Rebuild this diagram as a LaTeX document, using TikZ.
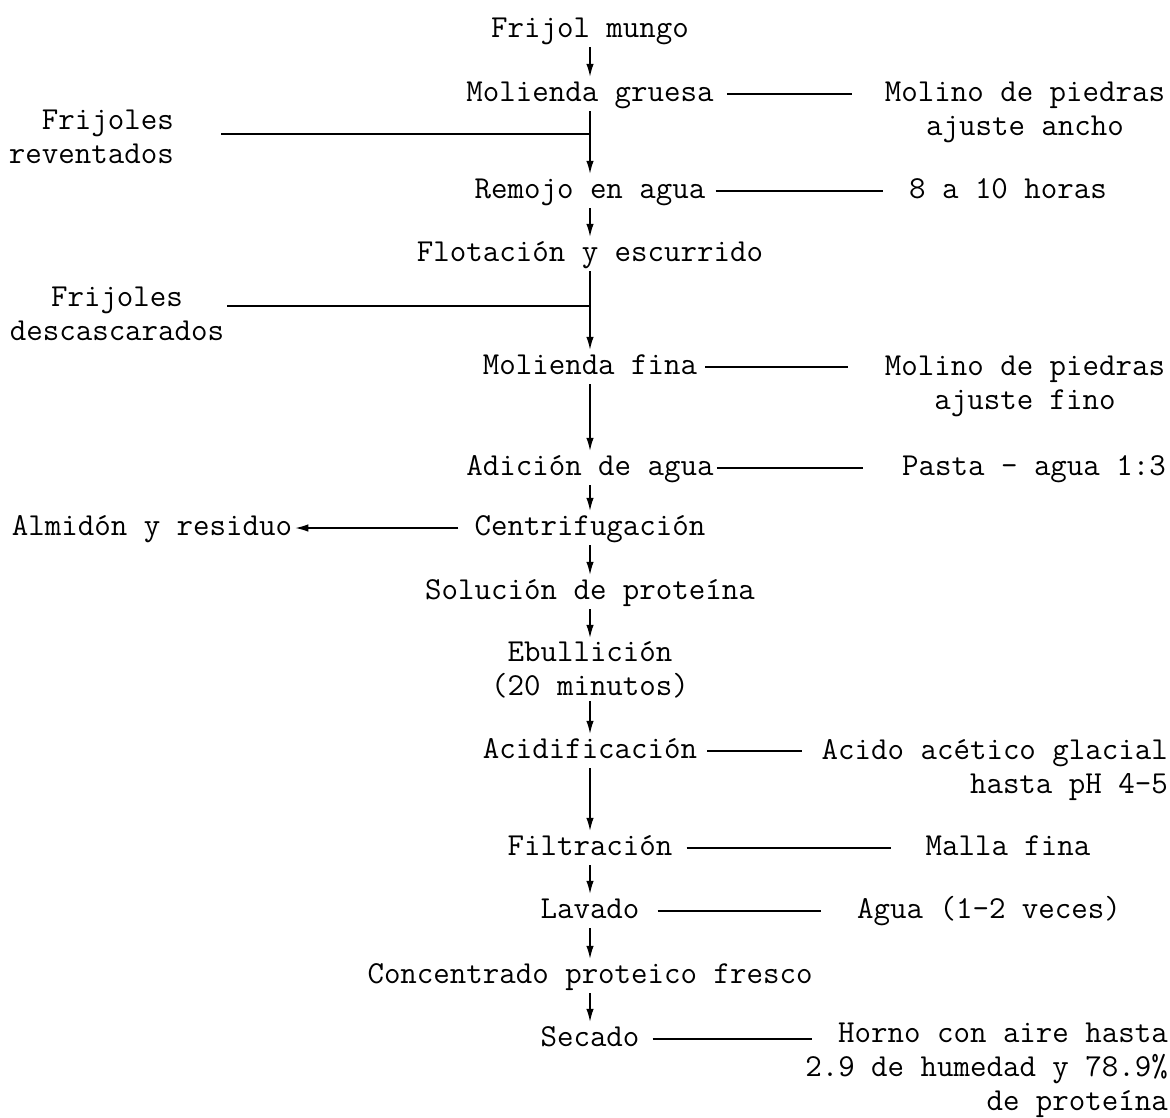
\documentclass[tikz,border=0pt]{standalone}
\usetikzlibrary{arrows.meta}
\tikzset{
  stage/.style={anchor=base, inner sep=3pt, text height=21pt, text depth=7pt},
  note/.style={anchor=base, inner sep=3pt},
  flow/.style={->, line width=1.4pt},
  link/.style 2 args={line width=1.4pt, shorten <=#1, shorten >=#2}
}
\begin{document}
\begin{tikzpicture}[x=1pt, y=-1pt, >={Latex[length=13pt,width=7.5pt]},
    font=\fontsize{32}{34}\selectfont\ttfamily]
  \useasboundingbox (0,0) rectangle (1170,1117);
  \node[stage] (fm) at (590,37) {Frijol mungo};
  \node[stage] (mg) at (590,101) {Molienda gruesa};
  \node[stage] (ra) at (590,198) {Remojo en agua};
  \node[stage] (fe) at (590,261) {Flotación y escurrido};
  \node[stage] (mf) at (590,374) {Molienda fina};
  \node[stage] (aa) at (590,475) {Adición de agua};
  \node[stage] (ce) at (590,535) {Centrifugación};
  \node[stage] (sp) at (590,599) {Solución de proteína};
  \node[stage, text height={}, text depth={}, align=center] (eb) at (590,695) {Ebullición\\(20 minutos)};
  \node[stage] (ac) at (590,758) {Acidificación};
  \node[stage] (fi) at (590,855) {Filtración};
  \node[stage] (la) at (590,918) {Lavado};
  \node[stage] (cp) at (590,983) {Concentrado proteico fresco};
  \node[stage] (se) at (590,1046) {Secado};

  \node[note, align=center] (mp) at (1025,135) {Molino de piedras\\ajuste ancho};
  \node[note] (rh) at (1008,198) {8 a 10 horas};
  \node[note, align=center] (mq) at (1025,409) {Molino de piedras\\ajuste fino};
  \node[note] (pa) at (1034,475) {Pasta - agua 1:3};
  \node[note] (al) at (152,535) {Almidón y residuo};
  \node[note, anchor=base east, align=right] (aq) at (1171,793) {Acido acético glacial\\hasta pH 4-5};
  \node[note] (mm) at (1008,855) {Malla fina};
  \node[note] (ag) at (989,918) {Agua (1-2 veces)};
  \node[note, anchor=base east, align=right] (ho) at (1171,1110) {Horno con aire hasta\\2.9 de humedad y 78.9\%\\de proteína};
  \node[note, anchor=base east, align=right] (fr) at (177,163) {Frijoles\\reventados};
  \node[note, align=center] (fd) at (117,340) {Frijoles\\descascarados};

  \coordinate (j1) at (590,134);
  \coordinate (j2) at (590,306);

  \draw[flow] (fm) -- (mg);
  \draw[flow] (mg) -- (ra);
  \draw[flow] (ra) -- (fe);
  \draw[flow] (fe) -- (mf);
  \draw[flow] (mf) -- (aa);
  \draw[flow] (aa) -- (ce);
  \draw[flow] (ce) -- (sp);
  \draw[flow] (sp) -- (eb);
  \draw[flow] (eb) -- (ac);
  \draw[flow] (ac) -- (fi);
  \draw[flow] (fi) -- (la);
  \draw[flow] (la) -- (cp);
  \draw[flow] (cp) -- (se);

  \draw[link={44pt}{0pt}] (fr.east |- j1) -- (j1);
  \draw[link={0pt}{0pt}] (fd.east |- j2) -- (j2);
  \draw[link={10pt}{30pt}] (mg.east) -- (mg.east -| mp.west);
  \draw[link={7pt}{23pt}] (ra.east) -- (ra.east -| rh.west);
  \draw[link={5pt}{34pt}] (mf.east) -- (mf.east -| mq.west);
  \draw[link={0pt}{36pt}] (aa.east) -- (aa.east -| pa.west);
  \draw[link={7pt}{17pt}] (ac.east) -- (ac.east -| aq.west);
  \draw[link={11pt}{31pt}] (fi.east) -- (fi.east -| mm.west);
  \draw[link={15pt}{33pt}] (la.east) -- (la.east -| ag.west);
  \draw[link={10pt}{-10pt}] (se.east) -- (se.east -| ho.west);
  \draw[flow, shorten <=13pt] (ce.west) -- (ce.west -| al.east);
\end{tikzpicture}
\end{document}
